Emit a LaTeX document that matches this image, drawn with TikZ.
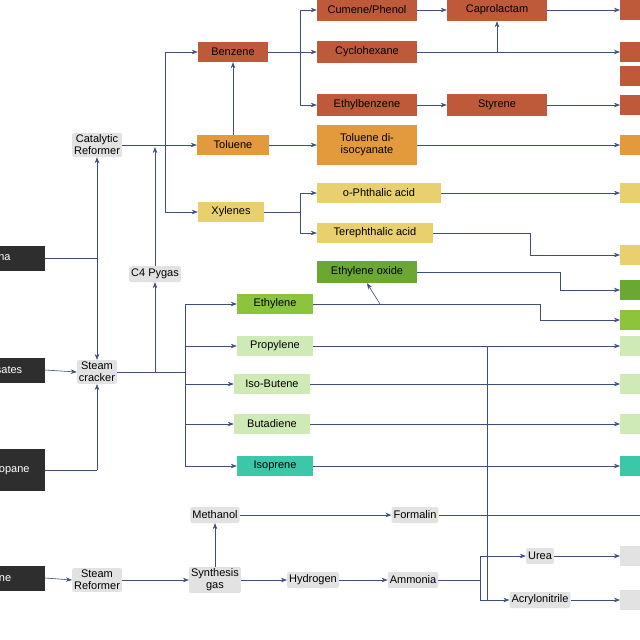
\documentclass[tikz,border=0pt]{standalone}
\usepackage{fontspec}
\setmainfont{Liberation Sans}
\usetikzlibrary{arrows.meta}
\definecolor{darkbox}{HTML}{2E2E2E}
\definecolor{rust}{HTML}{BE5A3A}
\definecolor{orangeb}{HTML}{E39A3C}
\definecolor{yellowb}{HTML}{E8D06E}
\definecolor{greend}{HTML}{6AA832}
\definecolor{greene}{HTML}{8CC43C}
\definecolor{greenl}{HTML}{CFEAB6}
\definecolor{tealb}{HTML}{3CC8A8}
\definecolor{greyb}{HTML}{E2E2E2}
\definecolor{lnc}{HTML}{3D4F7C}
\tikzset{
  bx/.style={draw=none, minimum height=20pt, inner sep=2pt, align=center},
  darkb/.style={bx, fill=darkbox, text=white, minimum height=25pt, minimum width=110pt, anchor=east, align=right, inner xsep=3pt},
  procb/.style={bx, fill=greyb, rounded corners=2pt, inner sep=2pt, minimum height=16pt},
  chem/.style={bx, minimum width=100pt},
  rbox/.style={bx, minimum width=60pt, anchor=west},
  ln/.style={draw=lnc, line width=0.6pt},
  arr/.style={ln, -{Stealth[length=6pt,width=4.5pt]}}
}
\begin{document}
\begin{tikzpicture}[x=1pt,y=-1pt,font=\fontsize{11}{12}\selectfont]
\useasboundingbox (0,0) rectangle (640,640);
\clip (0,0) rectangle (640,640);
\fill[white] (0,0) rectangle (640,640);

% feedstocks
\node[darkb] (naphtha) at (45,258) {Naphtha};
\node[darkb] (cond) at (45,370) {Condensates};
\node[darkb, minimum height=42pt] (ethprop) at (45,470) {Ethane/Propane};
\node[darkb] (methane) at (45,578) {Methane};

% processes
\node[procb] (catref) at (97,145) {Catalytic\\Reformer};
\node[procb] (steamcr) at (97,372) {Steam\\cracker};
\node[procb] (pygas) at (155,274) {C4 Pygas};
\node[procb] (stref) at (97,580) {Steam\\Reformer};
\node[procb] (syngas) at (215,580) {Synthesis\\gas};
\node[procb] (hydrogen) at (313,580) {Hydrogen};
\node[procb] (ammonia) at (413,580) {Ammonia};
\node[procb] (methanol) at (215,515) {Methanol};
\node[procb] (formal) at (415,515) {Formalin};
\node[procb] (urea) at (540,556) {Urea};
\node[procb] (acrylo) at (540,600) {Acrylonitrile};

% aromatics
\node[bx, fill=rust, minimum width=70pt] (benzene) at (233,52) {Benzene};
\node[bx, fill=orangeb, minimum width=72pt] (toluene) at (233,145) {Toluene};
\node[bx, fill=yellowb, minimum width=66pt] (xylenes) at (231,212) {Xylenes};
\node[chem, fill=rust, minimum height=22pt] (cumene) at (367,10) {Cumene/Phenol};
\node[chem, fill=rust, minimum height=22pt] (caprol) at (497,10) {Caprolactam};
\node[chem, fill=rust, minimum height=22pt] (cyclohex) at (367,52) {Cyclohexane};
\node[chem, fill=rust, minimum height=22pt] (ethylbz) at (367,105) {Ethylbenzene};
\node[chem, fill=rust, minimum height=22pt] (styrene) at (497,105) {Styrene};
\node[chem, fill=orangeb, minimum height=40pt] (tdi) at (367,145) {Toluene di-\\isocyanate};
\node[chem, fill=yellowb, minimum width=124pt] (ophth) at (379,193) {o-Phthalic acid};
\node[chem, fill=yellowb, minimum width=116pt] (tpa) at (375,233) {Terephthalic acid};
\node[chem, fill=greend, minimum height=22pt] (eo) at (367,272) {Ethylene oxide};

% olefins
\node[bx, fill=greene, minimum width=76pt] (ethylene) at (275,304) {Ethylene};
\node[bx, fill=greenl, minimum width=76pt] (propylene) at (275,346) {Propylene};
\node[bx, fill=greenl, minimum width=76pt] (isobut) at (272,384) {Iso-Butene};
\node[bx, fill=greenl, minimum width=76pt] (butad) at (272,424) {Butadiene};
\node[bx, fill=tealb, minimum width=76pt] (isoprene) at (275,466) {Isoprene};

% right-edge boxes (cut off)
\node[rbox, fill=rust] (r10) at (620,10) {};
\node[rbox, fill=rust] (r52) at (620,52) {};
\node[rbox, fill=rust] (r76) at (620,76) {};
\node[rbox, fill=rust] (r105) at (620,105) {};
\node[rbox, fill=orangeb] (r145) at (620,145) {};
\node[rbox, fill=yellowb] (r193) at (620,193) {};
\node[rbox, fill=yellowb] (r255) at (620,255) {};
\node[rbox, fill=greend] (r290) at (620,290) {};
\node[rbox, fill=greene] (r320) at (620,320) {};
\node[rbox, fill=greenl] (r346) at (620,346) {};
\node[rbox, fill=greenl] (r384) at (620,384) {};
\node[rbox, fill=greenl] (r424) at (620,424) {};
\node[rbox, fill=tealb] (r466) at (620,466) {};
\node[rbox, fill=greyb] (r556) at (620,556) {};
\node[rbox, fill=greyb] (r600) at (620,600) {};

% feed connections
\coordinate (nj) at (97,258);
\draw[ln] (naphtha.east) -- (nj);
\draw[arr] (nj) -- (catref.south);
\draw[arr] (nj) -- (steamcr.north);
\draw[arr] (cond.east) -- (steamcr.west);
\coordinate (ej) at (97,470);
\draw[ln] (ethprop.east) -- (ej);
\draw[arr] (ej) -- (steamcr.south);
\draw[arr] (methane.east) -- (stref.west);

% catalytic reformer
\coordinate (cb1) at (165,52);
\coordinate (cb3) at (165,212);
\draw[arr] (catref.east) -- (toluene.west);
\draw[ln] (cb1) -- (cb3);
\draw[arr] (cb1) -- (benzene.west);
\draw[arr] (cb3) -- (xylenes.west);
\coordinate (pg) at (155,147);
\draw[arr] (pygas.north) -- (pg);

% steam cracker
\coordinate (pj) at (155,372);
\coordinate (sb0) at (185,372);
\coordinate (sb1) at (185,304);
\coordinate (sb2) at (185,346);
\coordinate (sb3) at (185,384);
\coordinate (sb4) at (185,424);
\coordinate (sb5) at (185,466);
\draw[ln] (steamcr.east) -- (sb0);
\draw[arr] (pj) -- (pygas.south);
\draw[ln] (sb1) -- (sb5);
\draw[arr] (sb1) -- (ethylene.west);
\draw[arr] (sb2) -- (propylene.west);
\draw[arr] (sb3) -- (isobut.west);
\draw[arr] (sb4) -- (butad.west);
\draw[arr] (sb5) -- (isoprene.west);

% benzene chain
\coordinate (bb0) at (300,52);
\coordinate (bb1) at (300,10);
\coordinate (bb3) at (300,105);
\draw[ln] (benzene.east) -- (bb0);
\draw[ln] (bb1) -- (bb3);
\draw[arr] (bb1) -- (cumene.west);
\draw[arr] (bb0) -- (cyclohex.west);
\draw[arr] (bb3) -- (ethylbz.west);
\draw[arr] (toluene.north) -- (benzene.south);
\draw[arr] (toluene.east) -- (tdi.west);
\draw[arr] (cumene.east) -- (caprol.west);
\draw[arr] (caprol.east) -- (r10.west);
\coordinate (cy1) at (497,52);
\draw[arr] (cyclohex.east) -- (r52.west);
\draw[arr] (cy1) -- (caprol.south);
\draw[arr] (ethylbz.east) -- (styrene.west);
\draw[arr] (styrene.east) -- (r105.west);
\draw[arr] (tdi.east) -- (r145.west);

% xylenes
\coordinate (xb0) at (300,212);
\coordinate (xb1) at (300,193);
\coordinate (xb2) at (300,233);
\draw[ln] (xylenes.east) -- (xb0);
\draw[ln] (xb1) -- (xb2);
\draw[arr] (xb1) -- (ophth.west);
\draw[arr] (xb2) -- (tpa.west);
\draw[arr] (ophth.east) -- (r193.west);
\coordinate (tp1) at (530,233);
\draw[arr] (tpa.east) -- (tp1) |- (r255.west);

% olefin outputs
\coordinate (et1) at (380,304);
\draw[arr] (et1) -- (eo.south);
\coordinate (eo1) at (560,272);
\draw[arr] (eo.east) -- (eo1) |- (r290.west);
\coordinate (et2) at (540,304);
\draw[arr] (ethylene.east) -- (et2) |- (r320.west);
\draw[arr] (propylene.east) -- (r346.west);
\draw[arr] (isobut.east) -- (r384.west);
\draw[arr] (butad.east) -- (r424.west);
\draw[arr] (isoprene.east) -- (r466.west);

% synthesis gas chain
\draw[arr] (stref.east) -- (syngas.west);
\draw[arr] (syngas.east) -- (hydrogen.west);
\draw[arr] (hydrogen.east) -- (ammonia.west);
\draw[arr] (syngas.north) -- (methanol.south);
\draw[arr] (methanol.east) -- (formal.west);
\coordinate (fe) at (640,515);
\draw[ln] (formal.east) -- (fe);
\coordinate (am1) at (480,580);
\draw[ln] (ammonia.east) -- (am1);
\draw[arr] (am1) |- (urea.west);
\draw[arr] (am1) |- (acrylo.west);
\coordinate (pr1) at (487,346);
\coordinate (pr2) at (487,600);
\draw[ln] (pr1) -- (pr2);
\draw[arr] (urea.east) -- (r556.west);
\draw[arr] (acrylo.east) -- (r600.west);
\end{tikzpicture}
\end{document}
